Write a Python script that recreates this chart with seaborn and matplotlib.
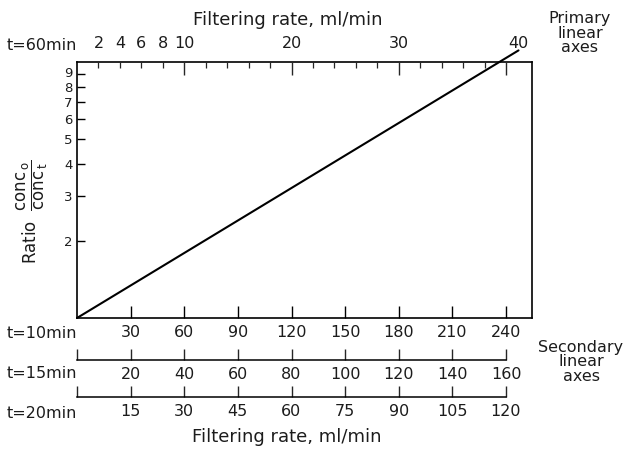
import matplotlib
matplotlib.use("Agg")
import matplotlib.pyplot as plt
import seaborn as sns
import pandas as pd
from matplotlib.transforms import ScaledTranslation

# ---------------- data ----------------
# the plotted line (x in ml/min on the t=10 min scale, y = conc0/conct)
line_rate_t10 = [0, 247]
line_ratio = [1.0, 11.1]

y_ticks = [2, 3, 4, 5, 6, 7, 8, 9]
t10_ticks = [30, 60, 90, 120, 150, 180, 210, 240]
t15_ticks = [20, 40, 60, 80, 100, 120, 140, 160]
t20_ticks = [15, 30, 45, 60, 75, 90, 105, 120]
t60_major = [10, 20, 30, 40]
t60_minor = [2, 4, 6, 8, 12, 14, 16, 18, 22, 24, 26, 28, 32, 34, 36, 38]
t60_minor_labels = ["2", "4", "6", "8"]

W, H = 629, 453
sns.set_style("white")
plt.rcParams["font.family"] = ["DejaVu Sans"]
plt.rcParams["mathtext.fontset"] = "dejavusans"
TXT = "#1c1c1c"
FS = 11.5

fig = plt.figure(figsize=(W / 100, H / 100), dpi=100)

def fx(px):
    return px / W

def fy(py):
    return 1 - py / H

# main axes
L, R, T, B = 77, 532, 62, 318
ax = fig.add_axes([fx(L), fy(B), fx(R - L), (B - T) / H])
df = pd.DataFrame({"rate": line_rate_t10, "ratio": line_ratio})
sns.lineplot(data=df, x="rate", y="ratio", ax=ax, color="black", lw=1.5)
for ln in ax.lines:
    ln.set_clip_on(False)
ax.set_yscale("log")
ax.set_ylim(1, 10)
x_max = (R - L) / ((506 - 77) / 240)
ax.set_xlim(0, x_max)
ax.set_xlabel("")
ax.set_ylabel("")
ax.set_yticks(y_ticks, [str(v) for v in y_ticks])
ax.yaxis.set_minor_locator(matplotlib.ticker.NullLocator())
ax.set_xticks(t10_ticks, [str(v) for v in t10_ticks])
ax.tick_params(axis="both", direction="in", colors="black", labelcolor=TXT,
               labelsize=FS, width=1.0, left=True, bottom=True)
ax.tick_params(axis="x", length=9, pad=5)
ax.tick_params(axis="y", length=6, pad=3, labelsize=9.5)
for s in ax.spines.values():
    s.set_visible(True)
    s.set_color("black")
    s.set_linewidth(1.2)
ylabs = ax.get_yticklabels()
ylabs[-1].set_transform(ylabs[-1].get_transform() + ScaledTranslation(0, 2 / 100, fig.dpi_scale_trans))

# top axis, t = 60 min
axt = ax.twiny()
axt.set_xlim(0, x_max / 6)
axt.set_xticks(t60_major, [str(v) for v in t60_major])
axt.set_xticks(t60_minor, t60_minor_labels + [""] * (len(t60_minor) - 4), minor=True)
axt.tick_params(axis="x", which="major", direction="in", length=9, width=1.0,
                labelsize=FS, labelcolor=TXT, pad=8, top=True)
axt.tick_params(axis="x", which="minor", direction="in", length=4, width=0.9,
                labelsize=FS, labelcolor=TXT, pad=8, top=True)
for s in axt.spines.values():
    s.set_visible(False)
lab40 = axt.get_xticklabels()[-1]
lab40.set_transform(lab40.get_transform() + ScaledTranslation(12 / 100, 0, fig.dpi_scale_trans))

# secondary linear axes (t=15, t=20)
def secondary(py, xmax, ticks):
    a = fig.add_axes([fx(77), fy(py), fx(506 - 77), 0.0001])
    a.set_facecolor("none")
    a.set_xlim(0, xmax)
    a.set_yticks([])
    for k, s in a.spines.items():
        s.set_visible(k == "bottom")
    a.spines["bottom"].set_linewidth(1.1)
    a.spines["bottom"].set_color("black")
    a.set_xticks([0] + ticks, [""] + [str(v) for v in ticks])
    a.tick_params(axis="x", direction="in", length=8, width=1.0, bottom=True,
                  labelsize=FS, labelcolor=TXT, pad=5)
    return a

secondary(360, 160, t15_ticks)
secondary(397, 120, t20_ticks)

# texts
def t(px, py, s, **kw):
    fig.text(fx(px), fy(py), s, ha="center", va="center", color=TXT,
             fontsize=kw.pop("fontsize", FS), **kw)

t(288, 20, "Filtering rate, ml/min", fontsize=13)
t(287, 437, "Filtering rate, ml/min", fontsize=13)
t(42, 45, "t=60min")
t(42, 333, "t=10min")
t(42, 374, "t=15min")
t(42, 413, "t=20min")
t(580, 33, "Primary\nlinear\naxes", fontsize=11.5, linespacing=0.95)
t(581, 362, "Secondary\nlinear\naxes", fontsize=11.5, linespacing=0.95)
t(32, 212, r"Ratio  $\dfrac{\mathrm{conc}_{\,\mathrm{o}}}{\mathrm{conc}_{\,\mathrm{t}}}$",
  rotation=90, fontsize=12)

fig.savefig("out.png", dpi=100)
